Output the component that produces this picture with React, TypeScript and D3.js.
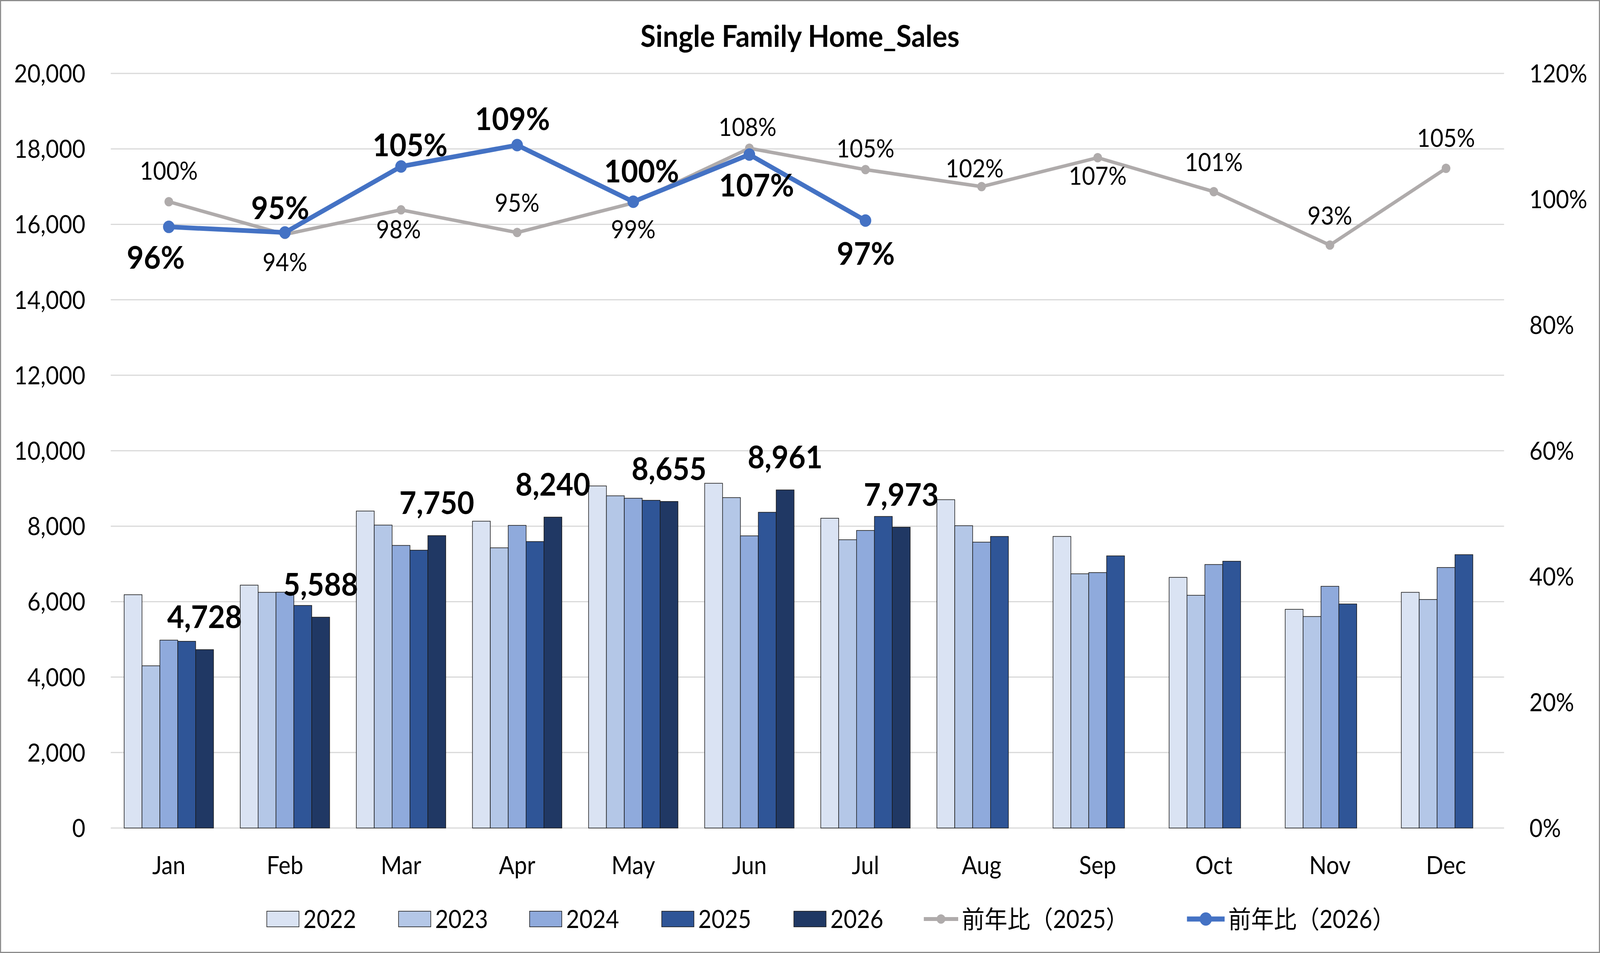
import { useRef, useEffect } from 'react';
import * as d3 from 'd3';

const months = ['Jan', 'Feb', 'Mar', 'Apr', 'May', 'Jun', 'Jul', 'Aug', 'Sep', 'Oct', 'Nov', 'Dec'];
const years = ['2022', '2023', '2024', '2025', '2026'];

const sales2022 = [6184, 6437, 8401, 8132, 9066, 9137, 8211, 8702, 7728, 6643, 5796, 6247];
const sales2023 = [4300, 6247, 8029, 7427, 8805, 8757, 7641, 8013, 6738, 6168, 5606, 6057];
const sales2024 = [4980, 6250, 7490, 8021, 8741, 7744, 7886, 7577, 6770, 6984, 6406, 6905];
const sales2025 = [4949, 5899, 7364, 7593, 8686, 8369, 8258, 7728, 7213, 7071, 5938, 7245];
const sales2026 = [4728, 5588, 7750, 8240, 8655, 8961, 7973, null, null, null, null, null];

// 前年比 (year over year ratio)
const yoy2025 = [0.996, 0.944, 0.983, 0.947, 0.994, 1.081, 1.047, 1.02, 1.066, 1.012, 0.927, 1.049];
const yoy2026 = [0.956, 0.947, 1.052, 1.086, 0.996, 1.071, 0.966];

const leftTicks = [0, 2000, 4000, 6000, 8000, 10000, 12000, 14000, 16000, 18000, 20000];
const rightTicks = [0, 0.2, 0.4, 0.6, 0.8, 1.0, 1.2];

const barColors = ['#DAE3F3', '#B4C7E7', '#8FAADC', '#2F5597', '#203864'];
const grayLine = '#AFABAB';
const blueLine = '#4472C4';

// label nudges, as placed in the original workbook
const grayLabelDx = [0, 0, -7, 0, 0, -5, 0, -19, 0, 0, 0, 0];
const grayLabelDy = [-56, 94, 73, -53, 90, -32, -31, -24, 69, -53, -53, -55];
const blueLabelDx = [-36, -13, 25, -13, 23, 20, 1];
const blueLabelDy = [107, -34, -26, -39, -49, 107, 113];

const FONT = "Lato, 'Noto Sans CJK JP', sans-serif";

export default function App() {
  const svgRef = useRef<SVGSVGElement>(null);

  useEffect(() => {
    if (!svgRef.current) return;

    const width = 4420;
    const height = 2440;
    const margin = { top: 188, right: 265, bottom: 320, left: 306 };

    document.body.style.margin = '0';
    document.body.style.overflow = 'hidden';

    // the window may be narrower than the chart, so stretch the drawing to fill it
    const svg = d3.select(svgRef.current)
      .attr('viewBox', `0 0 ${width} ${height}`)
      .attr('preserveAspectRatio', 'none')
      .attr('width', window.innerWidth)
      .attr('height', window.innerHeight);

    svg.selectAll('*').remove();

    svg.append('rect')
      .attr('x', 1.5).attr('y', 1.5)
      .attr('width', width - 3).attr('height', height - 3)
      .attr('fill', '#fff')
      .attr('stroke', '#8c8c8c')
      .attr('stroke-width', 3);

    const x0 = d3.scaleBand()
      .domain(months)
      .range([margin.left, width - margin.right])
      .padding(0);

    const groupGap = x0.bandwidth() * 0.23;
    const x1 = d3.scaleBand()
      .domain(years)
      .range([groupGap / 2, x0.bandwidth() - groupGap / 2]);

    const y = d3.scaleLinear()
      .domain([0, 20000])
      .range([height - margin.bottom, margin.top]);

    const yR = d3.scaleLinear()
      .domain([0, 1.2])
      .range([height - margin.bottom, margin.top]);

    // grid
    svg.append('g')
      .selectAll('line')
      .data(leftTicks)
      .join('line')
      .attr('x1', margin.left)
      .attr('x2', width - margin.right)
      .attr('y1', d => y(d))
      .attr('y2', d => y(d))
      .attr('stroke', '#D9D9D9')
      .attr('stroke-width', 3);

    // left axis labels
    svg.append('g')
      .selectAll('text')
      .data(leftTicks)
      .join('text')
      .attr('x', 236)
      .attr('y', d => y(d) + 23)
      .attr('text-anchor', 'end')
      .attr('font-family', FONT)
      .attr('font-size', 63)
      .attr('fill', '#000')
      .text(d => d3.format(',')(d));

    // right axis labels
    svg.append('g')
      .selectAll('text')
      .data(rightTicks)
      .join('text')
      .attr('x', 4225)
      .attr('y', d => yR(d) + 23)
      .attr('text-anchor', 'start')
      .attr('font-family', FONT)
      .attr('font-size', 63)
      .attr('fill', '#000')
      .text(d => d3.format('.0%')(d));

    // category labels
    svg.append('g')
      .selectAll('text')
      .data(months)
      .join('text')
      .attr('x', d => x0(d)! + x0.bandwidth() / 2)
      .attr('y', 2238)
      .attr('text-anchor', 'middle')
      .attr('font-family', FONT)
      .attr('font-size', 63)
      .attr('fill', '#000')
      .text(d => d);

    // bars
    const series = [sales2022, sales2023, sales2024, sales2025, sales2026];
    const barData = months.flatMap((m, i) =>
      years.map((yr, j) => ({ month: m, year: yr, idx: j, value: series[j][i] }))
    ).filter(d => d.value != null) as { month: string; year: string; idx: number; value: number }[];

    svg.append('g')
      .selectAll('rect')
      .data(barData)
      .join('rect')
      .attr('x', d => x0(d.month)! + x1(d.year)!)
      .attr('y', d => y(d.value))
      .attr('width', x1.bandwidth())
      .attr('height', d => y(0) - y(d.value))
      .attr('fill', d => barColors[d.idx])
      .attr('stroke', '#1a1a1a')
      .attr('stroke-width', 1.6);

    // 2026 bar labels
    svg.append('g')
      .selectAll('text')
      .data(barData.filter(d => d.year === '2026'))
      .join('text')
      .attr('x', d => x0(d.month)! + x1(d.year)! + x1.bandwidth() / 2)
      .attr('y', d => y(d.value) - 55)
      .attr('text-anchor', 'middle')
      .attr('font-family', FONT)
      .attr('font-size', 81)
      .attr('font-weight', 'bold')
      .attr('fill', '#000')
      .text(d => d3.format(',')(d.value));

    const cx = (i: number) => x0(months[i])! + x0.bandwidth() / 2;

    const line = d3.line<number>()
      .x((_, i) => cx(i))
      .y(d => yR(d));

    // 前年比 2025
    svg.append('path')
      .datum(yoy2025)
      .attr('fill', 'none')
      .attr('stroke', grayLine)
      .attr('stroke-width', 9)
      .attr('stroke-linejoin', 'round')
      .attr('d', line);

    svg.append('g')
      .selectAll('circle')
      .data(yoy2025)
      .join('circle')
      .attr('cx', (_, i) => cx(i))
      .attr('cy', d => yR(d))
      .attr('r', 12)
      .attr('fill', grayLine);

    // 前年比 2026
    svg.append('path')
      .datum(yoy2026)
      .attr('fill', 'none')
      .attr('stroke', blueLine)
      .attr('stroke-width', 12)
      .attr('stroke-linejoin', 'round')
      .attr('d', line);

    svg.append('g')
      .selectAll('circle')
      .data(yoy2026)
      .join('circle')
      .attr('cx', (_, i) => cx(i))
      .attr('cy', d => yR(d))
      .attr('r', 16)
      .attr('fill', blueLine);

    svg.append('g')
      .selectAll('text')
      .data(yoy2025)
      .join('text')
      .attr('x', (_, i) => cx(i) + grayLabelDx[i])
      .attr('y', (d, i) => yR(d) + grayLabelDy[i])
      .attr('text-anchor', 'middle')
      .attr('font-family', FONT)
      .attr('font-size', 63)
      .attr('fill', '#000')
      .text(d => d3.format('.0%')(d));

    svg.append('g')
      .selectAll('text')
      .data(yoy2026)
      .join('text')
      .attr('x', (_, i) => cx(i) + blueLabelDx[i])
      .attr('y', (d, i) => yR(d) + blueLabelDy[i])
      .attr('text-anchor', 'middle')
      .attr('font-family', FONT)
      .attr('font-size', 81)
      .attr('font-weight', 'bold')
      .attr('fill', '#000')
      .text(d => d3.format('.0%')(d));

    // title
    svg.append('text')
      .attr('x', width / 2)
      .attr('y', 120)
      .attr('text-anchor', 'middle')
      .attr('font-family', FONT)
      .attr('font-size', 77)
      .attr('font-weight', 'bold')
      .attr('fill', '#000')
      .text('Single Family Home_Sales');

    // legend
    const legendY = 2353;
    const legendX = [737, 1101, 1463, 1828, 2193, 2552, 3279];
    const legend = svg.append('g');

    years.forEach((yr, j) => {
      legend.append('rect')
        .attr('x', legendX[j])
        .attr('y', legendY - 20)
        .attr('width', 89)
        .attr('height', 40)
        .attr('fill', barColors[j])
        .attr('stroke', '#1a1a1a')
        .attr('stroke-width', 1.6);
      legend.append('text')
        .attr('x', legendX[j] + 101)
        .attr('y', legendY + 23)
        .attr('font-family', FONT)
        .attr('font-size', 63)
        .attr('fill', '#000')
        .text(yr);
    });

    const lineItems = [
      { label: '前年比（2025）', color: grayLine, w: 10, r: 12, len: 95 },
      { label: '前年比（2026）', color: blueLine, w: 13, r: 17, len: 104 },
    ];
    lineItems.forEach((item, k) => {
      const lx = legendX[5 + k];
      legend.append('line')
        .attr('x1', lx).attr('x2', lx + item.len)
        .attr('y1', legendY).attr('y2', legendY)
        .attr('stroke', item.color)
        .attr('stroke-width', item.w);
      legend.append('circle')
        .attr('cx', lx + item.len / 2)
        .attr('cy', legendY)
        .attr('r', item.r)
        .attr('fill', item.color);
      legend.append('text')
        .attr('x', lx + item.len + 10)
        .attr('y', legendY + 23)
        .attr('font-family', FONT)
        .attr('font-size', 63)
        .attr('fill', '#000')
        .text(item.label);
    });
  }, []);

  return (
    <svg ref={svgRef} style={{ position: 'absolute', left: 0, top: 0, display: 'block' }}></svg>
  );
}
